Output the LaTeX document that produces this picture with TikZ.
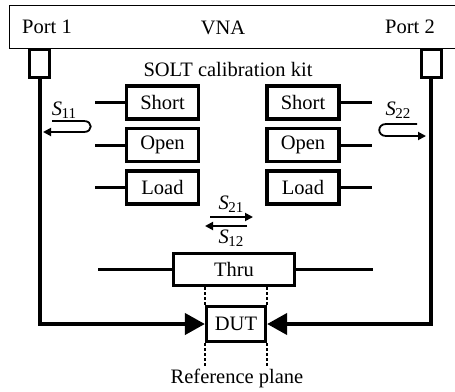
\documentclass[tikz,border=0pt]{standalone}
\usepackage{fontspec}
\setmainfont{Liberation Serif}
\usetikzlibrary{arrows.meta,calc}
\newcommand{\Spar}[1]{\textit{S}\kern-0.5pt\raisebox{-0.35ex}{\fontsize{15}{15}\selectfont #1}}
\begin{document}
\begin{tikzpicture}[x=1pt,y=-1pt,
  txt/.style={font=\fontsize{20.5}{24}\selectfont, inner sep=0pt},
  calbox/.style={draw, line width=3.2pt, minimum width=72pt, minimum height=33pt, inner sep=0pt, font=\fontsize{20.5}{24}\selectfont},
  portbox/.style={draw, line width=3pt, minimum width=20pt, minimum height=28pt, inner sep=0pt},
  lead/.style={line width=3pt},
  feed/.style={line width=4pt, -{Triangle[length=20pt,width=21pt]}},
  sarrow/.style={line width=1.8pt, -{Triangle[length=8pt,width=8pt]}},
  refline/.style={line width=2.5pt, dash pattern=on 2.5pt off 2.5pt}
]
\clip (0,0) rectangle (455,391);
% VNA
\node[draw, line width=1.3pt, minimum width=460pt, minimum height=43pt, inner sep=0pt, anchor=north west] (vna) at (8.5,4.5) {};
\node[txt] (vnal) at (223,28) {VNA};
\node[txt] (port1) at (47,27) {Port 1};
\node[txt] (port2) at (410,27) {Port 2};
% port connectors
\node[portbox] (p1) at (39.5,63.5) {};
\node[portbox] (p2) at (431,63.5) {};
\node[txt] (kit) at (228,69) {SOLT calibration kit};
% calibration standards
\node[calbox] (s1) at (162.5,102.5) {Short};
\node[calbox] (o1) at (162.5,145) {Open};
\node[calbox] (l1) at (162.5,187.5) {Load};
\node[calbox] (s2) at (303,102.5) {Short};
\node[calbox] (o2) at (303,145) {Open};
\node[calbox] (l2) at (303,187.5) {Load};
\coordinate (s1a) at (95,102.5);
\coordinate (o1a) at (95,145);
\coordinate (l1a) at (95,187.5);
\coordinate (s2a) at (372,102.5);
\coordinate (o2a) at (372,145);
\coordinate (l2a) at (372,187.5);
\draw[lead] (s1a) -- (s1.west);
\draw[lead] (o1a) -- (o1.west);
\draw[lead] (l1a) -- (l1.west);
\draw[lead] (s2.east) -- (s2a);
\draw[lead] (o2.east) -- (o2a);
\draw[lead] (l2.east) -- (l2a);
% thru
\node[calbox, minimum width=121pt, minimum height=32pt] (thru) at (234,269.5) {Thru};
\coordinate (t1a) at (98,269.5);
\coordinate (t2a) at (373,269.5);
\draw[lead] (t1a) -- (thru.west);
\draw[lead] (thru.east) -- (t2a);
% DUT
\node[calbox, minimum width=59pt, minimum height=35pt] (dut) at (236,324) {DUT};
\draw[feed] (p1.south) -- (p1.south |- dut.west) -- (dut.west);
\draw[feed] (p2.south) -- (p2.south |- dut.east) -- (dut.east);
% reference planes
\coordinate (rb) at (0,368);
\draw[refline] (thru.south -| dut.west) -- (dut.north west);
\draw[refline] (thru.south -| dut.east) -- (dut.north east);
\draw[refline] (dut.south west) -- (dut.west |- rb);
\draw[refline] (dut.south east) -- (dut.east |- rb);
\node[txt] (refp) at (237,378) {Reference plane};
% S parameters
\node[txt] (s11) at (64,110) {\Spar{11}};
\coordinate (s11a) at (52,121);
\coordinate (s11b) at (84,121);
\coordinate (s11c) at (84,132);
\coordinate (s11d) at (43,132);
\draw[sarrow] (s11a) -- (s11b) .. controls (93,121) and (93,132) .. (s11c) -- (s11d);
\node[txt] (s22) at (398,110) {\Spar{22}};
\coordinate (s22a) at (417,124);
\coordinate (s22b) at (386,124);
\coordinate (s22c) at (386,136);
\coordinate (s22d) at (426,136);
\draw[sarrow] (s22a) -- (s22b) .. controls (377,124) and (377,136) .. (s22c) -- (s22d);
\node[txt] (s21) at (231,204) {\Spar{21}};
\node[txt] (s12) at (231,238) {\Spar{12}};
\coordinate (s21a) at (210,217);
\coordinate (s21b) at (253,217);
\coordinate (s12a) at (247,226);
\coordinate (s12b) at (205,226);
\draw[sarrow] (s21a) -- (s21b);
\draw[sarrow] (s12a) -- (s12b);
\end{tikzpicture}
\end{document}
